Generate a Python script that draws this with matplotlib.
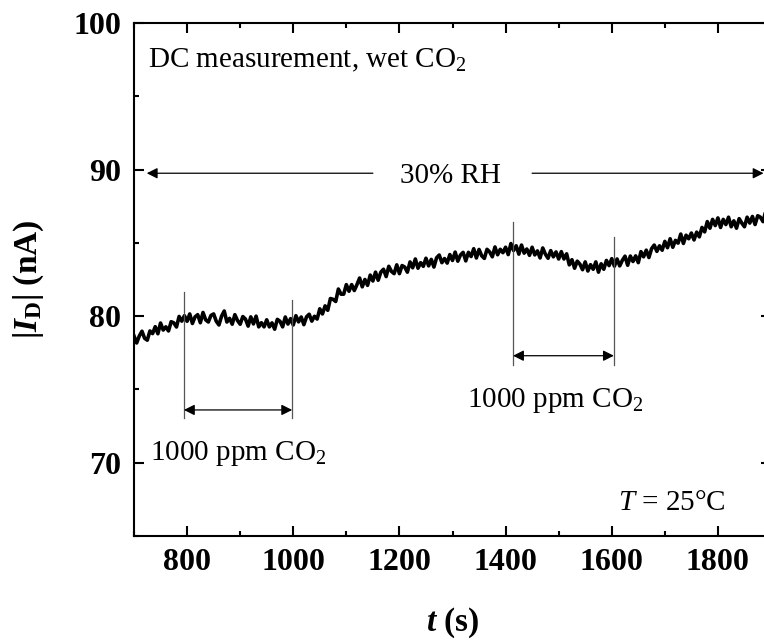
import numpy as np
import matplotlib
matplotlib.use("Agg")
import matplotlib.pyplot as plt
from matplotlib.ticker import MultipleLocator

plt.rcParams['font.family'] = ['Liberation Serif', 'DejaVu Serif']
plt.rcParams['mathtext.fontset'] = 'custom'
plt.rcParams['mathtext.rm'] = 'Liberation Serif'
plt.rcParams['mathtext.it'] = 'Liberation Serif:italic'
plt.rcParams['mathtext.bf'] = 'Liberation Serif:bold'
plt.rcParams['mathtext.bfit'] = 'Liberation Serif:bold:italic'

# ---- data: drain current |I_D| (nA) sampled every 5 s from 700 s to 1900 s ----
t_start, t_step = 700, 5
current_nA = [
    78.65, 78.17, 78.65, 78.97, 78.49, 78.36, 78.99, 78.81, 79.28, 78.80,   # 700-745
    79.53, 79.05, 79.27, 78.99, 79.62, 79.54, 79.26, 79.98, 79.66, 80.03,   # 750-795
    79.65, 80.15, 79.50, 79.95, 80.10, 79.55, 80.25, 79.75, 79.60, 80.05,   # 800-845
    80.15, 79.65, 79.40, 80.00, 80.35, 79.60, 79.85, 79.45, 80.10, 79.70,   # 850-895
    79.45, 79.97, 79.80, 79.32, 79.95, 79.47, 80.00, 79.27, 79.55, 79.27,   # 900-945
    79.75, 79.27, 79.54, 79.11, 79.78, 79.65, 79.27, 79.94, 79.46, 79.83,   # 950-995
    79.40, 80.03, 79.61, 79.94, 79.42, 79.95, 80.13, 79.66, 79.99, 79.80,   # 1000-1045
    80.50, 80.15, 80.70, 80.40, 81.20, 81.15, 81.00, 81.85, 81.50, 81.50,   # 1050-1095
    82.15, 81.70, 82.15, 81.75, 82.15, 82.60, 82.00, 82.50, 82.10, 82.80,   # 1100-1145
    82.40, 83.00, 82.45, 83.00, 83.20, 82.70, 83.40, 83.05, 82.90, 83.50,   # 1150-1195
    82.90, 83.45, 83.35, 83.00, 83.70, 83.30, 83.90, 83.27, 83.65, 83.40,   # 1200-1245
    83.95, 83.43, 83.87, 83.35, 83.98, 84.17, 83.65, 83.93, 83.62, 84.20,   # 1250-1295
    83.80, 84.37, 83.75, 84.17, 84.35, 83.77, 84.35, 84.07, 84.60, 83.97,   # 1300-1345
    84.55, 84.12, 83.94, 84.56, 84.38, 84.05, 84.72, 84.19, 84.56, 84.33,   # 1350-1395
    84.70, 84.20, 84.95, 84.48, 84.80, 84.23, 84.85, 84.30, 84.58, 84.15,   # 1400-1445
    84.70, 84.18, 84.45, 83.97, 84.65, 84.23, 83.95, 84.47, 84.05, 84.38,   # 1450-1495
    83.90, 84.40, 83.90, 84.25, 83.50, 83.85, 83.27, 83.75, 83.55, 83.17,   # 1500-1545
    83.70, 83.08, 83.51, 83.20, 83.70, 83.00, 83.57, 83.20, 83.80, 83.45,   # 1550-1595
    83.92, 83.41, 83.90, 83.43, 83.81, 84.09, 83.47, 84.10, 83.73, 84.11,   # 1600-1645
    83.65, 84.40, 84.05, 84.50, 84.00, 84.60, 84.85, 84.42, 84.80, 84.50,   # 1650-1695
    85.10, 84.67, 85.28, 84.70, 85.17, 84.98, 85.60, 84.96, 85.52, 85.28,   # 1700-1745
    85.67, 85.20, 85.73, 85.41, 86.05, 85.75, 86.45, 86.00, 86.60, 86.18,   # 1750-1795
    86.70, 86.05, 86.60, 86.25, 86.75, 86.10, 86.50, 86.00, 86.65, 86.35,   # 1800-1845
    86.10, 86.75, 86.35, 86.80, 86.25, 86.85, 86.75, 86.45, 87.15, 86.75,   # 1850-1895
    86.95,                                                                  # 1900
]
time_s = t_start + t_step * np.arange(len(current_nA))

x_ticks = [800, 1000, 1200, 1400, 1600, 1800]
y_ticks = [70, 80, 90, 100]

# annotation positions (data coordinates)
co2_on_1, co2_off_1 = 794, 998
co2_on_2, co2_off_2 = 1414, 1604

fig = plt.figure(figsize=(7.64, 6.4), dpi=100)
ax = fig.add_axes([134 / 764, 104 / 640, 637 / 764, 513 / 640])

ax.plot(time_s, current_nA, color='black', lw=2.6)

ax.set_xlim(700, 1900)
ax.set_ylim(65, 100)
ax.set_xticks(x_ticks)
ax.set_yticks(y_ticks)
ax.xaxis.set_minor_locator(MultipleLocator(100))
ax.yaxis.set_minor_locator(MultipleLocator(5))
ax.tick_params(which='both', direction='in', top=True, right=True, width=1.5)
ax.tick_params(which='major', length=7, labelsize=23, pad=9)
ax.tick_params(which='minor', length=3.5)
for lab in ax.get_xticklabels() + ax.get_yticklabels():
    lab.set_fontweight('bold')
for sp in ax.spines.values():
    sp.set_linewidth(1.5)

ax.set_xlabel(r'$\mathbfit{t}$ (s)', fontsize=24, fontweight='bold', labelpad=20)
ax.set_ylabel(r'$\mathbf{|}\mathbfit{I}_{\mathbf{D}}\mathbf{|}$ (nA)', fontsize=24,
              fontweight='bold', labelpad=20)

fs = 21
ax.text(727, 97.0, r'DC measurement, wet CO$_2$', fontsize=fs, ha='left', va='baseline')
ax.text(1296, 89.1, '30% RH', fontsize=fs, ha='center', va='baseline')
ax.text(730, 70.2, r'1000 ppm CO$_2$', fontsize=fs, ha='left', va='baseline')
ax.text(1327, 73.8, r'1000 ppm CO$_2$', fontsize=fs, ha='left', va='baseline')
ax.text(1612, 66.8, r'$T$ = 25°C', fontsize=fs, ha='left', va='baseline')

arrow_kw = dict(color='black', lw=0.9, mutation_scale=16, shrinkA=0, shrinkB=0)
# 30% RH arrows
ax.annotate('', xy=(724, 89.75), xytext=(1150, 89.75),
            arrowprops=dict(arrowstyle='-|>', **arrow_kw))
ax.annotate('', xy=(1886, 89.75), xytext=(1450, 89.75),
            arrowprops=dict(arrowstyle='-|>', **arrow_kw))

# CO2 exposure markers
vline_kw = dict(color='#555555', lw=0.9)
ax.plot([co2_on_1, co2_on_1], [73.05, 81.65], **vline_kw)
ax.plot([co2_off_1, co2_off_1], [73.05, 81.1], **vline_kw)
ax.annotate('', xy=(co2_on_1, 73.6), xytext=(co2_off_1, 73.6),
            arrowprops=dict(arrowstyle='<|-|>', **arrow_kw))
ax.plot([co2_on_2, co2_on_2], [76.65, 86.45], **vline_kw)
ax.plot([co2_off_2, co2_off_2], [76.65, 85.4], **vline_kw)
ax.annotate('', xy=(co2_on_2, 77.3), xytext=(co2_off_2, 77.3),
            arrowprops=dict(arrowstyle='<|-|>', **arrow_kw))

fig.savefig('out.png', dpi=100)
